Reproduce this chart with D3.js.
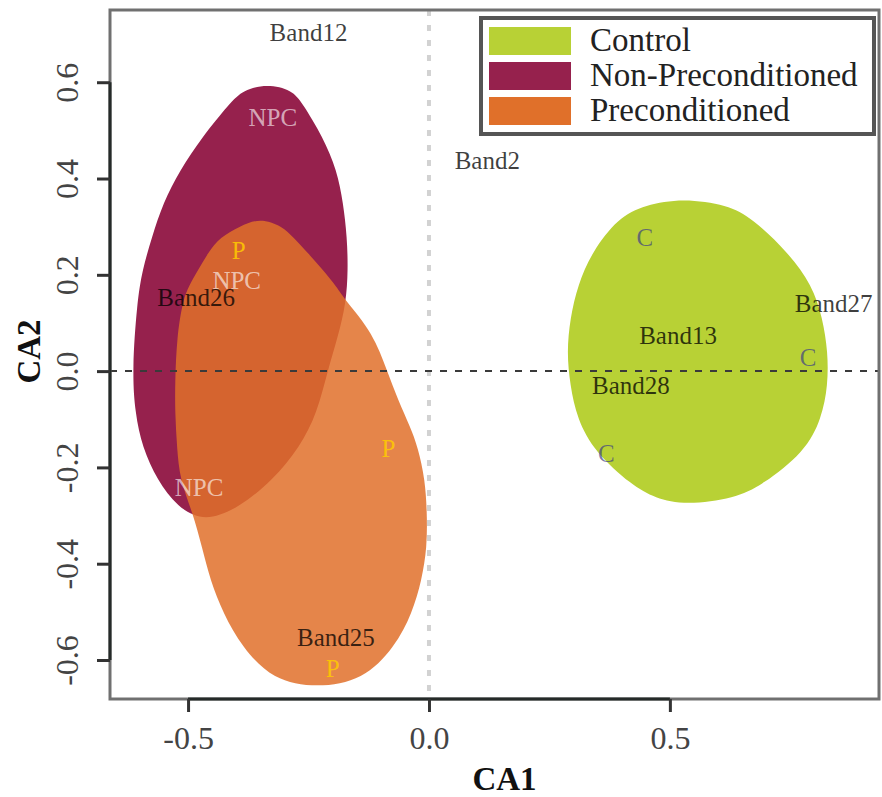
<!DOCTYPE html>
<html>
<head>
<meta charset="utf-8">
<script src="https://cdn.jsdelivr.net/npm/d3@7"></script>
<style>
  html, body { margin: 0; padding: 0; background: #ffffff; }
  svg { display: block; }
  text { font-family: "Liberation Serif", "Times New Roman", serif; }
</style>
</head>
<body>
<svg id="chart" width="882" height="797"></svg>
<script>
// ---------------- data ----------------
const groups = ["Control", "Non-Preconditioned", "Preconditioned"];
const groupColors = ["#b8d135", "#96214d", "#e0702a"];
const groupOpacity = [1, 1, 0.85];

// outlines of the group regions (CA1, CA2)
const hullControl = [[0.527,0.359],[0.620,0.345],[0.670,0.318],[0.745,0.247],[0.795,0.179],[0.817,0.110],[0.828,0.039],[0.828,-0.029],[0.815,-0.098],[0.780,-0.168],[0.691,-0.237],[0.635,-0.264],[0.533,-0.278],[0.469,-0.264],[0.421,-0.237],[0.344,-0.168],[0.307,-0.098],[0.293,-0.029],[0.286,0.039],[0.293,0.110],[0.309,0.179],[0.338,0.247],[0.392,0.318],[0.448,0.345]];
const hullNonPre = [[-0.336,0.596],[-0.284,0.584],[-0.263,0.557],[-0.220,0.486],[-0.191,0.417],[-0.178,0.349],[-0.170,0.278],[-0.168,0.210],[-0.172,0.141],[-0.189,0.071],[-0.210,0.002],[-0.232,-0.087],[-0.268,-0.158],[-0.324,-0.226],[-0.392,-0.282],[-0.465,-0.314],[-0.523,-0.282],[-0.564,-0.226],[-0.595,-0.158],[-0.610,-0.087],[-0.616,0.002],[-0.606,0.141],[-0.595,0.210],[-0.575,0.278],[-0.552,0.349],[-0.517,0.417],[-0.471,0.486],[-0.413,0.557],[-0.386,0.584]];
const hullPre = [[-0.351,0.318],[-0.304,0.301],[-0.282,0.278],[-0.251,0.245],[-0.220,0.210],[-0.191,0.174],[-0.174,0.147],[-0.116,0.079],[-0.087,0.000],[-0.064,-0.060],[-0.039,-0.116],[-0.023,-0.158],[-0.008,-0.226],[-0.004,-0.295],[-0.004,-0.366],[-0.015,-0.434],[-0.035,-0.503],[-0.071,-0.573],[-0.137,-0.642],[-0.232,-0.658],[-0.324,-0.642],[-0.388,-0.573],[-0.427,-0.503],[-0.454,-0.434],[-0.471,-0.366],[-0.490,-0.295],[-0.517,-0.226],[-0.523,-0.158],[-0.527,-0.087],[-0.527,-0.019],[-0.523,0.071],[-0.512,0.141],[-0.500,0.174],[-0.479,0.210],[-0.459,0.245],[-0.434,0.278],[-0.392,0.301]];
const hulls = [hullControl, hullNonPre, hullPre];

// variable (band) scores
const variableNames = ["Band12", "Band2", "Band27", "Band13", "Band28", "Band26", "Band25"];
const variableX = [-0.250, 0.121, 0.840, 0.517, 0.419, -0.483, -0.193];
const variableY = [0.704, 0.438, 0.141, 0.075, -0.029, 0.154, -0.552];

// sample scores
const sampleNames = ["NPC", "NPC", "NPC", "P", "P", "P", "C", "C", "C"];
const sampleX = [-0.324, -0.399, -0.477, -0.395, -0.084, -0.200, 0.448, 0.787, 0.368];
const sampleY = [0.527, 0.189, -0.241, 0.251, -0.160, -0.617, 0.278, 0.029, -0.170];

// axes
const xTicks = [-0.5, 0.0, 0.5];
const yTicks = [-0.6, -0.4, -0.2, 0.0, 0.2, 0.4, 0.6];
const xTitle = "CA1";
const yTitle = "CA2";

// ---------------- drawing ----------------
(function draw() {
const svg = d3.select("#chart");
const pL = 110, pR = 879, pT = 10, pB = 699;

const x = d3.scaleLinear().domain([-0.662, 0.934]).range([pL, pR]);
const y = d3.scaleLinear().domain([-0.681, 0.75]).range([pB, pT]);

svg.append("rect").attr("width", 882).attr("height", 797).attr("fill", "#fff");

svg.append("clipPath").attr("id", "clip")
  .append("rect").attr("x", pL).attr("y", pT).attr("width", pR - pL).attr("height", pB - pT);

const area = svg.append("g").attr("clip-path", "url(#clip)");

const line = d3.line().x(d => x(d[0])).y(d => y(d[1])).curve(d3.curveBasisClosed);

hulls.forEach((h, i) => {
  area.append("path")
    .attr("d", line(h))
    .attr("fill", groupColors[i])
    .attr("fill-opacity", groupOpacity[i])
    .attr("stroke", "none");
});

// reference lines
area.append("line")
  .attr("x1", x(0)).attr("x2", x(0)).attr("y1", pT).attr("y2", pB)
  .attr("stroke", "#d2d2d2").attr("stroke-width", 4).attr("stroke-dasharray", "6,9");
area.append("line")
  .attr("x1", pL).attr("x2", pR).attr("y1", y(0)).attr("y2", y(0))
  .attr("stroke", "#3a3a3a").attr("stroke-width", 2).attr("stroke-dasharray", "7,8");

// sample labels
const sampleStyle = {
  "NPC": { fill: "#ffffff", op: 0.62 },
  "P":   { fill: "#ffcc00", op: 0.85 },
  "C":   { fill: "#3d3f86", op: 0.7 }
};
area.selectAll("text.sample")
  .data(sampleNames.map((n, i) => ({ n, vx: sampleX[i], vy: sampleY[i] })))
  .join("text")
  .attr("class", "sample")
  .attr("x", d => x(d.vx)).attr("y", d => y(d.vy))
  .attr("dy", "0.35em")
  .attr("text-anchor", "middle")
  .attr("font-size", 25)
  .attr("fill", d => sampleStyle[d.n].fill)
  .attr("fill-opacity", d => sampleStyle[d.n].op)
  .text(d => d.n);

// variable labels
area.selectAll("text.var")
  .data(variableNames.map((n, i) => ({ n, vx: variableX[i], vy: variableY[i] })))
  .join("text")
  .attr("class", "var")
  .attr("x", d => x(d.vx)).attr("y", d => y(d.vy))
  .attr("dy", "0.35em")
  .attr("text-anchor", "middle")
  .attr("font-size", 25)
  .attr("fill", "#000")
  .attr("fill-opacity", 0.75)
  .text(d => d.n);

// frame
svg.append("rect")
  .attr("x", pL).attr("y", pT).attr("width", pR - pL).attr("height", pB - pT)
  .attr("fill", "none").attr("stroke", "#707070").attr("stroke-width", 3);

// axes
const fmt = d3.format(".1f");
const fmtLabel = v => fmt(v).replace("\u2212", "-");

const xAxis = d3.axisBottom(x).tickValues(xTicks).tickSize(13).tickPadding(14).tickFormat(fmtLabel);
const gx = svg.append("g").attr("transform", `translate(0,${pB})`).call(xAxis);
gx.select(".domain").attr("stroke", "#252a28").attr("stroke-width", 3)
  .attr("d", `M${x(xTicks[0])},0H${x(xTicks[xTicks.length - 1])}`);
gx.selectAll(".tick line").attr("stroke", "#333").attr("stroke-width", 3);
gx.selectAll(".tick text")
  .attr("font-family", "Liberation Serif, serif")
  .attr("font-size", 32).attr("fill", "#444");

const yAxis = d3.axisLeft(y).tickValues(yTicks).tickSize(13).tickFormat(fmtLabel);
const gy = svg.append("g").attr("transform", `translate(${pL},0)`).call(yAxis);
gy.select(".domain").attr("stroke", "#252a28").attr("stroke-width", 3)
  .attr("d", `M0,${y(yTicks[yTicks.length - 1])}V${y(yTicks[0])}`);
gy.selectAll(".tick line").attr("stroke", "#333").attr("stroke-width", 3);
gy.selectAll(".tick text")
  .attr("font-family", "Liberation Serif, serif")
  .attr("font-size", 32).attr("fill", "#444")
  .attr("text-anchor", "middle")
  .attr("x", null).attr("dy", null)
  .attr("transform", "translate(-32,0) rotate(-90)");

// axis titles
svg.append("text")
  .attr("x", (pL + pR) / 2 + 10).attr("y", 790)
  .attr("text-anchor", "middle").attr("font-size", 33).attr("font-weight", "bold")
  .attr("fill", "#111").text(xTitle);
svg.append("text")
  .attr("transform", `translate(40,${(pT + pB) / 2 - 3}) rotate(-90)`)
  .attr("text-anchor", "middle").attr("font-size", 33).attr("font-weight", "bold")
  .attr("fill", "#111").text(yTitle);

// legend
const lg = svg.append("g");
lg.append("rect").attr("x", 481).attr("y", 18).attr("width", 393).attr("height", 116)
  .attr("fill", "#fff").attr("stroke", "#555").attr("stroke-width", 4);
groups.forEach((g, i) => {
  const cy = 41 + i * 35;
  lg.append("rect").attr("x", 489).attr("y", cy - 14).attr("width", 82).attr("height", 28)
    .attr("fill", groupColors[i]);
  lg.append("text").attr("x", 590).attr("y", cy + 10)
    .attr("font-size", 33).attr("fill", "#222").text(g);
});
})();
</script>
</body>
</html>
